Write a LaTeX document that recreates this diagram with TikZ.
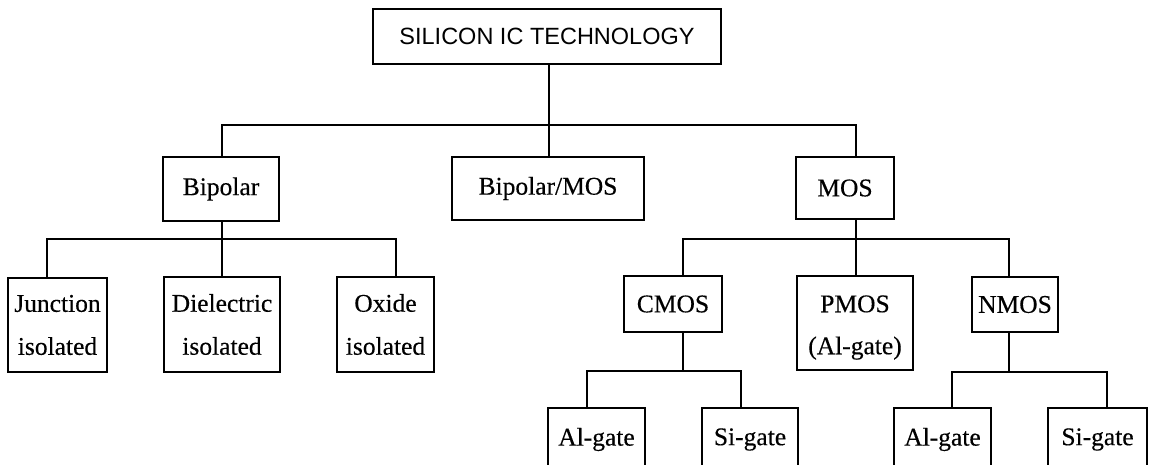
\documentclass[tikz,border=0pt]{standalone}
\usepackage{fontspec}
\newfontfamily\bodyfont{Liberation Serif}[FakeBold=0.35]
\newfontfamily\headfont{Liberation Sans}
\begin{document}
\begin{tikzpicture}[x=1pt,y=-1pt,line width=1.8pt,
  box/.style={draw,inner sep=0pt,outer sep=0pt,align=center,
    font=\bodyfont\fontsize{25.5}{43}\selectfont},
  openbox/.style={inner sep=0pt,outer sep=0pt,align=center,
    font=\bodyfont\fontsize{25.5}{43}\selectfont},
  headbox/.style={draw,inner sep=0pt,outer sep=0pt,
    font=\headfont\fontsize{23.5}{28}\selectfont},
  link/.style={line width=1.8pt}]
\useasboundingbox (0,0) rectangle (1155,465);
% level 0
\node[headbox,minimum width=348pt,minimum height=55pt] (top) at (547,36.5) {SILICON IC TECHNOLOGY};
% level 1
\node[box,minimum width=116pt,minimum height=64pt] (bip) at (221,189) {Bipolar};
\node[box,minimum width=192pt,minimum height=63pt] (bm) at (548,188.5) {Bipolar/MOS};
\node[box,minimum width=98pt,minimum height=62pt] (mos) at (845,188) {MOS};
% level 2
\node[box,minimum width=99pt,minimum height=94pt] (junc) at (57.5,325) {Junction\\isolated};
\node[box,minimum width=116pt,minimum height=95pt] (diel) at (222,324.5) {Dielectric\\isolated};
\node[box,minimum width=97pt,minimum height=95pt] (oxide) at (385.5,324.5) {Oxide\\isolated};
\node[box,minimum width=98pt,minimum height=56pt] (cmos) at (673,304) {CMOS};
\node[box,minimum width=116pt,minimum height=94pt,font=\bodyfont\fontsize{25.5}{42}\selectfont] (pmos) at (855,323) {\rule{0pt}{26pt}PMOS\\(Al-gate)};
\node[box,minimum width=86pt,minimum height=55pt] (nmos) at (1015,304.5) {NMOS};
% level 3 (cut off at the bottom)
\node[openbox,minimum width=97pt,minimum height=63pt] (al1) at (596.5,439.5) {Al-gate};
\node[openbox,minimum width=96pt,minimum height=63pt] (si1) at (750,439.5) {Si-gate};
\node[openbox,minimum width=97pt,minimum height=63pt] (al2) at (942.5,439.5) {Al-gate};
\node[openbox,minimum width=99pt,minimum height=63pt] (si2) at (1097.5,439.5) {Si-gate};
\foreach \n in {al1,si1,al2,si2}
  \draw (\n.south west) |- (\n.north east) -- (\n.south east);
% bus coordinates
\coordinate (xt) at (549,125);
\coordinate (b1) at (222,125);
\coordinate (m1) at (856,125);
\coordinate (bb) at (222,239);
\coordinate (jx) at (47,239);
\coordinate (ox) at (396,239);
\coordinate (mx) at (856,239);
\coordinate (cx) at (683,239);
\coordinate (nx) at (1009,239);
\coordinate (c2) at (683,371);
\coordinate (a1) at (587,371);
\coordinate (s1) at (741,371);
\coordinate (n2) at (1009,372);
\coordinate (a2) at (952,372);
\coordinate (s2) at (1107,372);
% connectors
\draw[link] (top.south -| xt) -- (bm.north -| xt);
\draw[link] (bip.north -| b1) -- (b1) -- (m1) -- (mos.north -| m1);
\draw[link] (bip.south -| bb) -- (diel.north -| bb);
\draw[link] (junc.north -| jx) -- (jx) -- (ox) -- (oxide.north -| ox);
\draw[link] (mos.south -| mx) -- (pmos.north -| mx);
\draw[link] (cmos.north -| cx) -- (cx) -- (nx) -- (nmos.north -| nx);
\draw[link] (cmos.south -| c2) -- (c2);
\draw[link] (al1.north -| a1) -- (a1) -- (s1) -- (si1.north -| s1);
\draw[link] (nmos.south -| n2) -- (n2);
\draw[link] (al2.north -| a2) -- (a2) -- (s2) -- (si2.north -| s2);
\end{tikzpicture}
\end{document}
